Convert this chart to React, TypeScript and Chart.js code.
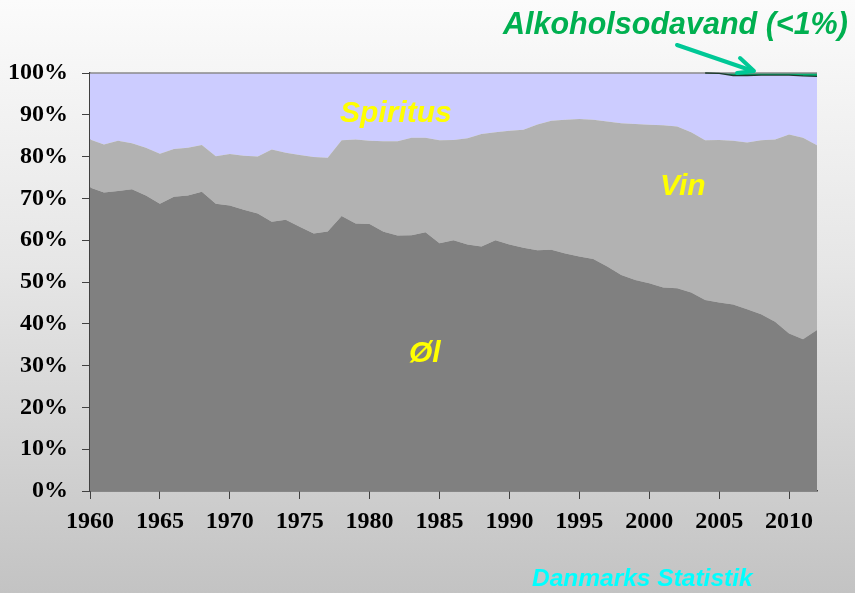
import React, { useEffect, useRef } from "react";
import { Chart, registerables } from "chart.js";

Chart.register(...registerables);

const years = [
  1960, 1961, 1962, 1963, 1964, 1965, 1966, 1967, 1968, 1969,
  1970, 1971, 1972, 1973, 1974, 1975, 1976, 1977, 1978, 1979,
  1980, 1981, 1982, 1983, 1984, 1985, 1986, 1987, 1988, 1989,
  1990, 1991, 1992, 1993, 1994, 1995, 1996, 1997, 1998, 1999,
  2000, 2001, 2002, 2003, 2004, 2005, 2006, 2007, 2008, 2009,
  2010, 2011, 2012,
];

const ol = [
  72.6, 71.4, 71.8, 72.2, 70.7, 68.7, 70.4, 70.7, 71.6, 68.7,
  68.3, 67.3, 66.4, 64.4, 64.9, 63.2, 61.6, 62.1, 65.8, 64.0,
  63.9, 62.0, 61.1, 61.2, 61.9, 59.3, 60.0, 59.0, 58.5, 60.0,
  59.0, 58.2, 57.6, 57.7, 56.8, 56.1, 55.5, 53.7, 51.7, 50.5,
  49.7, 48.7, 48.5, 47.5, 45.7, 45.1, 44.6, 43.5, 42.3, 40.5,
  37.7, 36.3, 38.5,
];

const vin = [
  11.5, 11.5, 12.0, 11.0, 11.4, 12.0, 11.4, 11.4, 11.2, 11.4,
  12.3, 12.9, 13.6, 17.3, 16.0, 17.2, 18.3, 17.6, 18.1, 20.1,
  19.9, 21.7, 22.6, 23.3, 22.6, 24.6, 24.0, 25.4, 26.9, 25.8,
  27.2, 28.2, 30.1, 30.9, 32.0, 32.9, 33.3, 34.7, 36.3, 37.3,
  37.9, 38.8, 38.7, 38.3, 38.2, 38.9, 39.2, 39.9, 41.6, 43.6,
  47.6, 48.2, 44.2,
];

const spiritus = [
  15.9, 17.1, 16.2, 16.8, 17.9, 19.3, 18.2, 17.9, 17.2, 19.9,
  19.4, 19.8, 20.0, 18.3, 19.1, 19.6, 20.1, 20.3, 16.1, 15.9,
  16.2, 16.3, 16.3, 15.5, 15.5, 16.1, 16.0, 15.6, 14.6, 14.2,
  13.8, 13.6, 12.3, 11.4, 11.2, 11.0, 11.2, 11.6, 12.0, 12.2,
  12.4, 12.5, 12.8, 14.2, 16.1, 15.9, 15.6, 16.0, 15.6, 15.4,
  14.2, 14.8, 16.5,
];

const alkoholsodavand = [
  0, 0, 0, 0, 0, 0, 0, 0, 0, 0,
  0, 0, 0, 0, 0, 0, 0, 0, 0, 0,
  0, 0, 0, 0, 0, 0, 0, 0, 0, 0,
  0, 0, 0, 0, 0, 0, 0, 0, 0, 0,
  0, 0, 0, 0, 0, 0.1, 0.6, 0.6, 0.5, 0.5,
  0.5, 0.7, 0.8,
];

const xTicks = [1960, 1965, 1970, 1975, 1980, 1985, 1990, 1995, 2000, 2005, 2010];

const toPoints = (arr: number[]) => years.map((yr, i) => ({ x: yr, y: arr[i] }));

const borders = {
  id: "borders",
  afterDatasetsDraw(chart: any) {
    const { ctx, chartArea } = chart;
    ctx.save();
    // plot top border
    ctx.strokeStyle = "#8a8a8a";
    ctx.lineWidth = 1.5;
    ctx.beginPath();
    ctx.moveTo(chartArea.left, chartArea.top);
    ctx.lineTo(chartArea.right, chartArea.top);
    ctx.stroke();
    // dark outline of the Alkoholsodavand band (top of Spiritus where band exists)
    const pts = chart.getDatasetMeta(2).data;
    ctx.strokeStyle = "#1c3a2c";
    ctx.lineWidth = 1.3;
    ctx.beginPath();
    let started = false;
    for (let i = 1; i < pts.length; i++) {
      if (alkoholsodavand[i] > 0 || alkoholsodavand[i - 1] > 0) {
        if (!started) {
          ctx.moveTo(pts[i - 1].x, pts[i - 1].y);
          started = true;
        }
        ctx.lineTo(pts[i].x, pts[i].y);
      }
    }
    ctx.stroke();
    ctx.restore();
  },
};

const tickFont = { family: "'Liberation Serif', 'Times New Roman', serif", size: 24, weight: "bold" };

export default function App() {
  const ref = useRef<HTMLCanvasElement>(null);

  useEffect(() => {
    if (!ref.current) return;
    const chart = new Chart(ref.current, {
      type: "line",
      data: {
        datasets: [
          {
            label: "Øl",
            data: toPoints(ol),
            backgroundColor: "#808080",
            borderWidth: 0,
            pointRadius: 0,
            fill: "origin",
          },
          {
            label: "Vin",
            data: toPoints(vin),
            backgroundColor: "#b2b2b2",
            borderWidth: 0,
            pointRadius: 0,
            fill: "-1",
          },
          {
            label: "Spiritus",
            data: toPoints(spiritus),
            backgroundColor: "#ccccff",
            borderWidth: 0,
            pointRadius: 0,
            fill: "-1",
          },
          {
            label: "Alkoholsodavand",
            data: toPoints(alkoholsodavand),
            backgroundColor: "#00b070",
            borderWidth: 0,
            pointRadius: 0,
            fill: "-1",
          },
        ] as any,
      },
      options: {
        animation: false,
        responsive: false,
        maintainAspectRatio: false,
        layout: { padding: { left: 0, top: 73, right: 38, bottom: 0 } },
        plugins: {
          legend: { display: false },
          tooltip: { enabled: false },
          title: { display: false },
        },
        elements: { line: { tension: 0 } },
        scales: {
          x: {
            type: "linear",
            min: 1960,
            max: 2012,
            afterBuildTicks: (scale: any) => {
              scale.ticks = xTicks.map((v) => ({ value: v }));
            },
            afterFit: (scale: any) => {
              scale.height = 102;
            },
            ticks: {
              callback: (v: any) => String(v),
              color: "#000",
              font: tickFont,
              padding: 8,
              maxRotation: 0,
              autoSkip: false,
            },
            grid: {
              drawOnChartArea: false,
              drawTicks: true,
              tickLength: 8,
              color: "#404040",
            },
            border: { color: "#404040", width: 1.5 },
          },
          y: {
            stacked: true,
            min: 0,
            max: 100,
            afterFit: (scale: any) => {
              scale.width = 90;
            },
            ticks: {
              stepSize: 10,
              callback: (v: any) => v + "%",
              color: "#000",
              font: tickFont,
              padding: 14,
            },
            grid: {
              drawOnChartArea: false,
              drawTicks: true,
              tickLength: 8,
              color: "#404040",
            },
            border: { color: "#404040", width: 1.5 },
          },
        },
      } as any,
      plugins: [borders],
    });
    return () => chart.destroy();
  }, []);

  const labelFont = "'Liberation Sans', Arial, sans-serif";

  return (
    <div
      style={{
        position: "absolute",
        left: 0,
        top: 0,
        width: 855,
        height: 593,
        overflow: "hidden",
        background: "linear-gradient(to bottom, #fbfbfb 0%, #e6e6e6 45%, #c3c3c3 100%)",
      }}
    >
      <canvas ref={ref} width={855} height={593} style={{ position: "absolute", left: 0, top: 0, width: 855, height: 593 }} />
      <div
        style={{
          position: "absolute",
          left: 503,
          top: 5,
          fontFamily: labelFont,
          fontWeight: "bold",
          fontStyle: "italic",
          fontSize: 30.5,
          color: "#00b050",
          whiteSpace: "nowrap",
          lineHeight: "36px",
        }}
      >
        Alkoholsodavand (&lt;1%)
      </div>
      <svg width={855} height={593} style={{ position: "absolute", left: 0, top: 0, pointerEvents: "none" }}>
        <line x1={677} y1={45} x2={753} y2={71} stroke="#00c896" strokeWidth={4} strokeLinecap="round" />
        <polyline points="740,58 754,71 737,73" fill="none" stroke="#00c896" strokeWidth={4} strokeLinecap="round" strokeLinejoin="round" />
      </svg>
      <div
        style={{
          position: "absolute",
          left: 340,
          top: 94,
          fontFamily: labelFont,
          fontWeight: "bold",
          fontStyle: "italic",
          fontSize: 30,
          color: "#ffff00",
          lineHeight: "36px",
          whiteSpace: "nowrap",
        }}
      >
        Spiritus
      </div>
      <div
        style={{
          position: "absolute",
          left: 660,
          top: 167,
          fontFamily: labelFont,
          fontWeight: "bold",
          fontStyle: "italic",
          fontSize: 30,
          color: "#ffff00",
          lineHeight: "36px",
          whiteSpace: "nowrap",
        }}
      >
        Vin
      </div>
      <div
        style={{
          position: "absolute",
          left: 409,
          top: 334,
          fontFamily: labelFont,
          fontWeight: "bold",
          fontStyle: "italic",
          fontSize: 30,
          color: "#ffff00",
          lineHeight: "36px",
          whiteSpace: "nowrap",
        }}
      >
        Øl
      </div>
      <div
        style={{
          position: "absolute",
          left: 532,
          top: 563,
          fontFamily: labelFont,
          fontWeight: "bold",
          fontStyle: "italic",
          fontSize: 24.5,
          color: "#00ffff",
          lineHeight: "30px",
          whiteSpace: "nowrap",
        }}
      >
        Danmarks Statistik
      </div>
    </div>
  );
}
